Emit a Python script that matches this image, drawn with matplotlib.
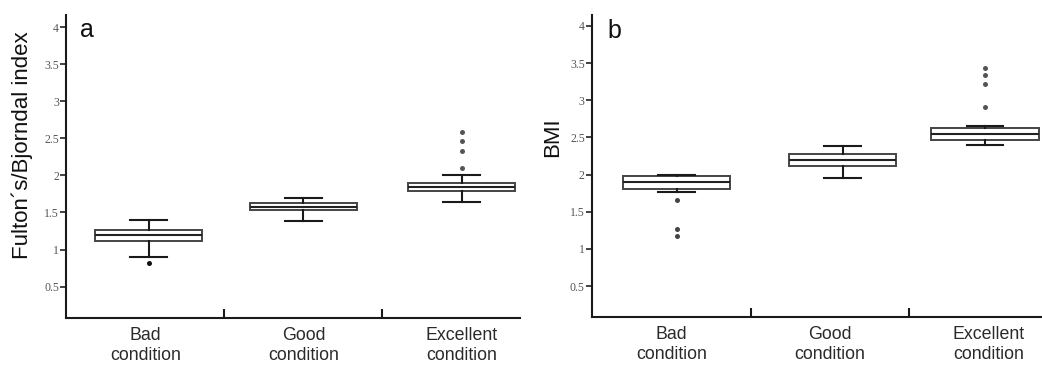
import matplotlib
matplotlib.use("Agg")
import matplotlib.pyplot as plt
from matplotlib import font_manager

categories = ["Bad\ncondition", "Good\ncondition", "Excellent\ncondition"]

# Panel a: Fulton's/Bjorndal index
a_whislo = [0.90, 1.38, 1.64]
a_q1 = [1.12, 1.53, 1.79]
a_med = [1.19, 1.58, 1.84]
a_q3 = [1.26, 1.63, 1.90]
a_whishi = [1.40, 1.70, 2.00]
a_fliers = [[0.82], [], [2.10, 2.33, 2.46, 2.58]]

# Panel b: BMI
b_whislo = [1.76, 1.95, 2.40]
b_q1 = [1.80, 2.11, 2.46]
b_med = [1.90, 2.19, 2.55]
b_q3 = [1.985, 2.28, 2.63]
b_whishi = [2.00, 2.39, 2.65]
b_fliers = [[1.66, 1.27, 1.17], [], [2.91, 3.22, 3.34, 3.44]]

yticks = [0.5, 1, 1.5, 2, 2.5, 3, 3.5, 4]
ytick_labels = ["0.5", "1", "1.5", "2", "2.5", "3", "3.5", "4"]

names = {f.name for f in font_manager.fontManager.ttflist}
if "Liberation Sans Narrow" in names:
    xfont, xsize = "Liberation Sans Narrow", 14.5
else:
    xfont, xsize = "Liberation Sans", 12.8

fig = plt.figure(figsize=(10.42, 3.71), dpi=100)
axA = fig.add_axes([66/1042, 1-317.7/371, 454/1042, 302.7/371])
axB = fig.add_axes([591.7/1042, 1-316.7/371, 450.3/1042, 301.7/371])


def build(whislo, q1, med, q3, whishi, fliers):
    return [dict(whislo=whislo[i], q1=q1[i], med=med[i], q3=q3[i],
                 whishi=whishi[i], fliers=fliers[i]) for i in range(len(q1))]


def draw(ax, stats, positions, xlim, ylim, ylabel, ylab_xy, letter, letter_xy, flier_colors):
    res = ax.bxp(stats, positions=positions, widths=0.68, patch_artist=True,
                 boxprops=dict(facecolor="white", edgecolor="#444444", linewidth=1.4),
                 medianprops=dict(color="#222222", linewidth=1.5),
                 whiskerprops=dict(color="#1a1a1a", linewidth=1.5),
                 capprops=dict(color="#1a1a1a", linewidth=1.5),
                 capwidths=0.23,
                 flierprops=dict(marker="o", markersize=3.6, markeredgecolor="none",
                                 markerfacecolor="#555555"))
    for fl, c in zip(res["fliers"], flier_colors):
        fl.set_markerfacecolor(c)
    ax.set_xlim(*xlim)
    ax.set_ylim(*ylim)
    for s in ("top", "right"):
        ax.spines[s].set_visible(False)
    for s in ("left", "bottom"):
        ax.spines[s].set_linewidth(1.5)
        ax.spines[s].set_color("#1a1a1a")
    ax.set_yticks(yticks)
    ax.set_yticklabels(ytick_labels, fontfamily="Liberation Serif", fontsize=8.5, color="#555555")
    ax.tick_params(axis="y", length=4, width=1.3, color="#333333", pad=1)
    ax.set_xticks([0, 1, 2])
    ax.set_xticklabels(categories, fontfamily=xfont, fontsize=xsize, color="#2a2a2a",
                       linespacing=1.2)
    ax.tick_params(axis="x", which="major", length=0, pad=7)
    ax.set_xticks([0.5, 1.5], minor=True)
    ax.tick_params(axis="x", which="minor", direction="in", length=6.5, width=1.5, color="#1a1a1a")
    ax.set_ylabel(ylabel, fontfamily="Liberation Sans", fontsize=16, color="#111111")
    ax.yaxis.set_label_coords(*ylab_xy)
    ax.text(letter_xy[0], letter_xy[1], letter, transform=ax.transAxes,
            fontfamily="Liberation Sans", fontsize=18, va="baseline", ha="left", color="#111111")


draw(axA, build(a_whislo, a_q1, a_med, a_q3, a_whishi, a_fliers),
     [0.02, 1.0, 2.0], (-0.502, 2.37), (0.081, 4.162),
     "Fulton\u00b4s/Bjorndal index", (-0.073, 0.57), "a", (0.031, 0.927),
     ["#111111", "#555555", "#555555"])
draw(axB, build(b_whislo, b_q1, b_med, b_q3, b_whishi, b_fliers),
     [0.03, 1.08, 1.98], (-0.506, 2.34), (0.087, 4.148),
     "BMI", (-0.064, 0.594), "b", (0.036, 0.924),
     ["#444444", "#555555", "#555555"])

fig.savefig("out.png", dpi=100)
